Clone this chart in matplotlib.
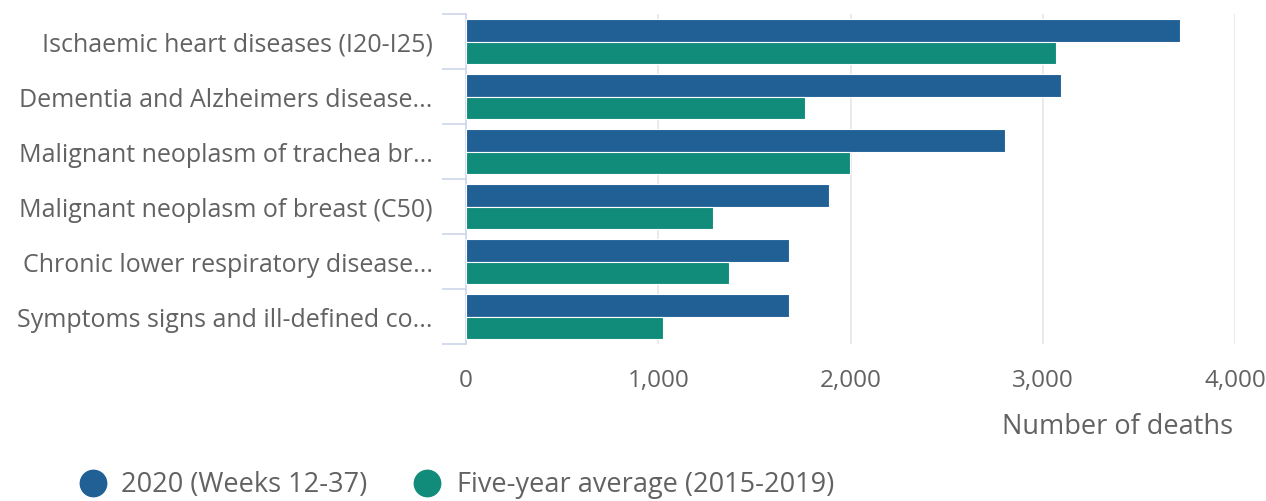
import numpy as np
import matplotlib.pyplot as plt
from matplotlib.lines import Line2D

plt.rcParams['font.family'] = ['Open Sans', 'DejaVu Sans']

causes = ["Ischaemic heart diseases (I20-I25)",
          "Dementia and Alzheimers disease...",
          "Malignant neoplasm of trachea br...",
          "Malignant neoplasm of breast (C50)",
          "Chronic lower respiratory disease...",
          "Symptoms signs and ill-defined co..."]
deaths_2020 = [3714, 3095, 2804, 1888, 1680, 1680]
five_year_avg = [3069, 1763, 1997, 1285, 1368, 1025]
series_names = ["2020 (Weeks 12-37)", "Five-year average (2015-2019)"]
x_ticks = [0, 1000, 2000, 3000, 4000]

blue = '#206095'
green = '#118c7b'
text_col = '#626262'

W, H = 1266, 502
fig = plt.figure(figsize=(W/100, H/100), dpi=100)
ax = fig.add_axes([466/W, 1 - 345/H, (1235 - 466)/W, 330/H])

y = np.arange(len(causes))
h = 0.41
ax.barh(y - h/2, deaths_2020, height=h, color=blue, edgecolor='white', linewidth=0.8, zorder=3)
ax.barh(y + h/2, five_year_avg, height=h, color=green, edgecolor='white', linewidth=0.8, zorder=3)

ax.set_ylim(len(causes) - 0.5, -0.5)
ax.set_xlim(0, 4000)
ax.set_xticks(x_ticks)
ax.set_xticklabels([f"{v:,}" for v in x_ticks])
ax.xaxis.grid(True, color='#e6e6e6', linewidth=1.2, zorder=0)
ax.tick_params(axis='x', length=0, pad=17, labelsize=17.5, labelcolor=text_col)

ax.set_yticks(y)
ax.set_yticklabels(causes)
ax.tick_params(axis='y', length=0, pad=24, labelsize=18, labelcolor=text_col)
# boundary ticks between categories
ax.set_yticks(np.arange(-0.5, len(causes)), minor=True)
ax.tick_params(axis='y', which='minor', length=17, width=1.2, color='#ccd6eb')

for s in ['top', 'right', 'bottom']:
    ax.spines[s].set_visible(False)
ax.spines['left'].set_color('#ccd6eb')
ax.spines['left'].set_linewidth(1.2)

fig.text(1233/W, 1 - 427/H, "Number of deaths", ha='right', va='center',
         fontsize=19.5, color=text_col)

# legend drawn by hand so the items sit where the reference puts them
for name, col, mx, tx in zip(series_names, (blue, green), (93, 427), (121, 457)):
    fig.add_artist(Line2D([mx/W], [1 - 484/H], marker='o', markersize=19, color=col,
                          linestyle='none', transform=fig.transFigure))
    fig.text(tx/W, 1 - 485/H, name, ha='left', va='center', fontsize=19.5, color=text_col)

fig.savefig('out.png', dpi=100)
